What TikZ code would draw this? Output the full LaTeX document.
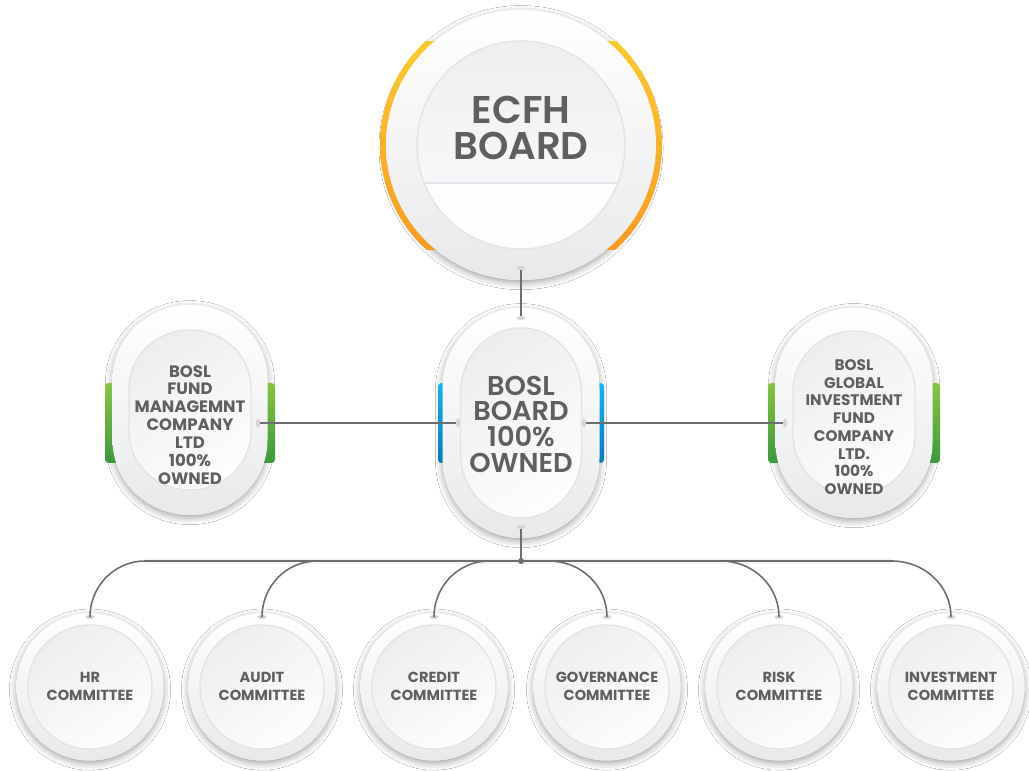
\documentclass[tikz,border=0pt]{standalone}
\usepackage{fontspec}
\setmainfont{Poppins}[UprightFont=* SemiBold, BoldFont=* Bold]
\usetikzlibrary{shadows.blur}

\definecolor{txt}{HTML}{5E5F61}
\definecolor{linkgray}{HTML}{6D6E71}
\definecolor{notchgray}{HTML}{D3D5D8}
\definecolor{ringlow}{HTML}{E8E9EB}
\definecolor{rim}{HTML}{E2E4E7}
\definecolor{facetop}{HTML}{ECEEF0}
\definecolor{facelow}{HTML}{FDFDFD}
\definecolor{gold}{HTML}{FDD22E}
\definecolor{amber}{HTML}{F7931E}
\definecolor{skyA}{HTML}{17B4EE}
\definecolor{skyB}{HTML}{0A78BE}
\definecolor{leafA}{HTML}{86C441}
\definecolor{leafB}{HTML}{3C983F}

\newcommand\ecfhsize{\fontsize{22}{20}\selectfont}
\newcommand\boardsize{\fontsize{15.5}{14.6}\selectfont}
\newcommand\leftsize{\bfseries\fontsize{9.4}{10.2}\selectfont}
\newcommand\rightsize{\bfseries\fontsize{8.7}{10.1}\selectfont}
\newcommand\comsize{\bfseries\fontsize{8.3}{10.2}\selectfont}

% rounded card: #1 options, #2 cx, #3 cy, #4 half width, #5 half straight side, #6 cap height
\newcommand\cardpath[6]{%
  \path[#1] ({#2-#4},{#3+#5}) -- ({#2-#4},{#3-#5})
    arc[start angle=180,end angle=360,x radius=#4,y radius=#6]
    -- ({#2+#4},{#3+#5})
    arc[start angle=0,end angle=180,x radius=#4,y radius=#6] -- cycle;}

\begin{document}
\begin{tikzpicture}[x=0.02cm,y=0.02cm,
  link/.style={draw=linkgray, line width=0.9pt},
  notch/.style={fill=notchgray},
  shadowed/.style={fill=white, blur shadow={shadow xshift=0pt, shadow yshift=-1.5pt,
      shadow blur radius=4pt, shadow opacity=38}},
  outerface/.style={top color=white, bottom color=ringlow},
  innerface/.style={top color=facetop, bottom color=facelow, shading angle=35,
      draw=rim, line width=0.8pt},
  lbl/.style={text=txt, align=center, inner sep=0pt},
]
\useasboundingbox[fill=white] (0,0) rectangle (1029,771);

% ---------- committee discs ----------
\newcommand\committee[3]{%
  \path[shadowed] (#2,84) circle[radius=73.5];
  \shade[outerface] (#2,84) circle[radius=73.5];
  \shade[innerface] (#2,84) circle[radius=62];
  \node[lbl, font=\comsize] (#1) at (#2,85) {#3};
  \coordinate (#1N) at (#2,154);
  \fill[notch] (#1N) ellipse[x radius=4.5, y radius=2];
}

% ---------- top board ----------
\path[shadowed] (521,626) circle[radius=135];
\begin{scope}
  \clip (370,521) rectangle (680,729);
  \shade[top color=gold, bottom color=amber] (521,626) circle[radius=141];
\end{scope}
\shade[outerface] (521,626) circle[radius=135];
\begin{scope}
  \clip (521,626) circle[radius=104];
  \fill[facelow] (400,500) rectangle (650,588);
  \shade[top color=facetop, bottom color=white!55!facetop] (400,588) rectangle (650,740);
  \draw[rim, line width=1.2pt] (400,588) -- (650,588);
\end{scope}
\draw[rim, line width=0.8pt] (521,626) circle[radius=104];
\node[lbl, font=\ecfhsize] (ecfh) at (521,643) {ECFH\\BOARD};
\coordinate (ecfhS) at (521,503);

% ---------- BOSL board ----------
\cardpath{shadowed}{521}{348}{78.5}{35}{80}
\shade[top color=skyA, bottom color=skyB, rounded corners=2pt] (438,308) rectangle (604,388);
\cardpath{outerface}{521}{348}{78.5}{35}{80}
\cardpath{innerface}{521}{348}{60.5}{30}{65}
\node[lbl, font=\boardsize] (bosl) at (521,347) {BOSL\\BOARD\\100\%\\OWNED};
\coordinate (boslN) at (521,453);
\coordinate (boslS) at (521,244);
\coordinate (boslW) at (458,348);
\coordinate (boslE) at (584,348);

% ---------- fund management company ----------
\cardpath{shadowed}{190}{361}{77.5}{30}{75}
\shade[top color=leafA, bottom color=leafB, rounded corners=2pt] (105,308) rectangle (275,388);
\cardpath{outerface}{190}{361}{77.5}{30}{75}
\cardpath{innerface}{190}{361}{61}{22}{58}
\node[lbl, font=\leftsize] (fund) at (190,346) {BOSL\\FUND\\MANAGEMNT\\COMPANY\\LTD\\100\%\\OWNED};
\coordinate (fundE) at (258,348);

% ---------- global investment fund company ----------
\cardpath{shadowed}{854}{358}{78.5}{30}{75}
\shade[top color=leafA, bottom color=leafB, rounded corners=2pt] (768,308) rectangle (940,388);
\cardpath{outerface}{854}{358}{78.5}{30}{75}
\cardpath{innerface}{854}{358}{61}{22}{60}
\node[lbl, font=\rightsize] (glob) at (854,344) {BOSL\\GLOBAL\\INVESTMENT\\FUND\\COMPANY\\LTD.\\100\%\\OWNED};
\coordinate (globW) at (785,348);

% ---------- committees ----------
\committee{hr}{90}{HR\\COMMITTEE}
\committee{aud}{262}{AUDIT\\COMMITTEE}
\committee{cre}{434}{CREDIT\\COMMITTEE}
\committee{gov}{607}{GOVERNANCE\\COMMITTEE}
\committee{risk}{779}{RISK\\COMMITTEE}
\committee{inv}{951}{INVESTMENT\\COMMITTEE}

% ---------- connectors ----------
\coordinate (hub) at (521,210);
\coordinate (hrS) at (145,210);
\coordinate (audS) at (317,210);
\coordinate (creS) at (489,210);
\coordinate (govS) at (549,210);
\coordinate (riskS) at (721,210);
\coordinate (invS) at (892,210);

\draw[black!4, line width=3.5pt] (hrS) -- (invS);
\draw[link] (ecfhS) -- (boslN);
\draw[link] (fundE) -- (boslW);
\draw[link] (boslE) -- (globW);
\draw[link] (boslS) -- (hub);
\draw[link] (hrS) -- (invS);
\foreach \c in {hr,aud,cre}
  \draw[link] (\c S) to[out=180,in=90] (\c N);
\foreach \c in {gov,risk,inv}
  \draw[link] (\c S) to[out=0,in=90] (\c N);
\fill[linkgray] (hub) circle[radius=3];

% connector notches on the cards
\fill[notch] (ecfhS) ellipse[x radius=4.5, y radius=2];
\fill[notch] (boslN) ellipse[x radius=4.5, y radius=2];
\fill[notch] (boslS) ellipse[x radius=4.5, y radius=2];
\fill[notch] (boslW) ellipse[x radius=2, y radius=4.5];
\fill[notch] (boslE) ellipse[x radius=2, y radius=4.5];
\fill[notch] (fundE) ellipse[x radius=2, y radius=4.5];
\fill[notch] (globW) ellipse[x radius=2, y radius=4.5];
\end{tikzpicture}
\end{document}
